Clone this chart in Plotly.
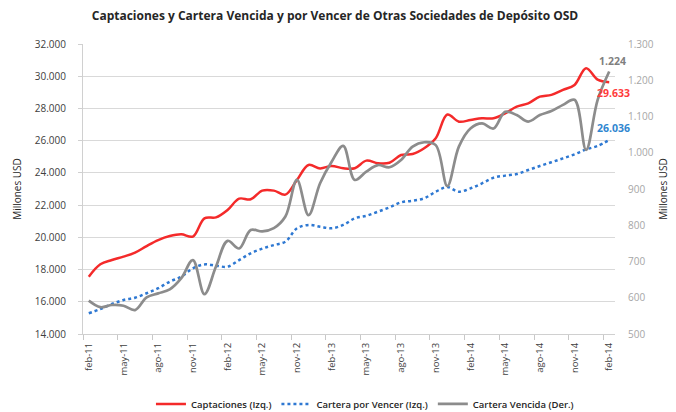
import plotly.graph_objects as go

# ---- data ----
tick_labels = ["feb-11", "may-11", "ago-11", "nov-11", "feb-12", "may-12", "nov-12", "feb-13",
               "may-13", "ago-13", "nov-13", "feb-14", "may-14", "ago-14", "nov-14", "feb-14"]

captaciones = [17560, 18330, 18590, 18800, 19050, 19460, 19830, 20080, 20190, 20050,
               21180, 21240, 21700, 22400, 22360, 22900, 22900, 22650, 23560, 24490,
               24280, 24430, 24290, 24290, 24760, 24600, 24630, 25110, 25170, 25530,
               26150, 27620, 27180, 27280, 27390, 27390, 27700, 28110, 28320, 28730,
               28840, 29150, 29460, 30500, 29790, 29633]

cartera_por_vencer = [15285, 15550, 15860, 16110, 16250, 16530, 16840, 17250, 17560, 18080,
                      18320, 18240, 18180, 18590, 19010, 19300, 19520, 19730, 20560, 20770,
                      20660, 20560, 20770, 21180, 21340, 21590, 21860, 22170, 22270, 22420,
                      22830, 23120, 22830, 23040, 23350, 23700, 23830, 23930, 24180, 24430,
                      24660, 24900, 25150, 25460, 25670, 26036]

cartera_vencida = [592, 574, 580, 578, 566, 601, 612, 623, 654, 704,
                   610, 686, 757, 736, 787, 783, 792, 824, 925, 828,
                   916, 975, 1019, 925, 948, 966, 960, 980, 1017, 1029,
                   1021, 908, 1017, 1067, 1081, 1067, 1113, 1104, 1086, 1104,
                   1115, 1132, 1146, 1008, 1146, 1224]

months = list(range(len(captaciones)))
label_step = 3

RED = "#f42a2a"
BLUE = "#2e78d2"
GRAY = "#8c8c8c"


def fmt(v):
    return f"{v:,}".replace(",", ".")


fig = go.Figure()
fig.add_trace(go.Scatter(x=months, y=captaciones, name="Captaciones (Izq.)", mode="lines",
                         line=dict(color=RED, width=2.5, shape="spline")))
fig.add_trace(go.Scatter(x=months, y=cartera_por_vencer, name="Cartera por Vencer (Izq.)", mode="lines",
                         line=dict(color=BLUE, width=2.5, dash="dot", shape="spline")))
fig.add_trace(go.Scatter(x=months, y=cartera_vencida, name="Cartera Vencida (Der.)", mode="lines",
                         yaxis="y2", line=dict(color=GRAY, width=2.7, shape="spline")))

last = months[-1]
lab_font = dict(size=10.5, family="Open Sans")
fig.add_annotation(x=last, y=cartera_vencida[-1], xref="x", yref="y2", text="<b>" + fmt(cartera_vencida[-1]) + "</b>",
                   showarrow=False, yshift=11, xshift=3, font=dict(color="#7f7f7f", **lab_font))
fig.add_annotation(x=last, y=captaciones[-1], xref="x", yref="y", text="<b>" + fmt(captaciones[-1]) + "</b>",
                   showarrow=False, yshift=-11, xshift=4, font=dict(color="#ff3b3b", **lab_font))
fig.add_annotation(x=last, y=cartera_por_vencer[-1], xref="x", yref="y", text="<b>" + fmt(cartera_por_vencer[-1]) + "</b>",
                   showarrow=False, yshift=12, xshift=4, font=dict(color="#2f86d0", **lab_font))

fig.update_layout(
    width=668, height=404,
    margin=dict(l=75, r=61, t=36, b=78, autoexpand=False),
    paper_bgcolor="white", plot_bgcolor="white",
    separators=",.",
    font=dict(family="Open Sans", color="#404040"),
    title=dict(text="<b>Captaciones y Cartera Vencida y por Vencer de Otras Sociedades de Depósito OSD</b>",
               x=0.4895, xanchor="center", y=0.99, yanchor="top",
               font=dict(size=12, color="#262626", family="Open Sans")),
    xaxis=dict(range=[-0.5, len(months) - 0.5], automargin=False,
               tickmode="array", tickvals=months[::label_step], ticktext=tick_labels,
               tickangle=-90, ticks="outside", ticklen=4, tickcolor="rgba(0,0,0,0)",
               tickfont=dict(size=9.5, color="#404040"),
               showgrid=False, zeroline=False,
               showline=True, linecolor="#d0d0d0", linewidth=1,
               minor=dict(tickmode="linear", tick0=-0.5, dtick=label_step, ticks="outside",
                          ticklen=5, tickcolor="#c8c8c8", showgrid=False)),
    yaxis=dict(range=[14000, 32000], dtick=2000, tickformat=",d", automargin=False,
               showgrid=True, gridcolor="#d9d9d9", gridwidth=1, zeroline=False,
               showline=True, linecolor="#d0d0d0", ticks="outside", ticklen=4, tickcolor="#d0d0d0",
               ticklabelstandoff=10,
               tickfont=dict(size=10, color="#404040"),
               title=dict(text="Millones USD", font=dict(size=10, color="#262626"), standoff=11)),
    yaxis2=dict(range=[500, 1300], dtick=100, tickformat=",d", overlaying="y", side="right",
                automargin=False, showgrid=False, zeroline=False, showline=False,
                ticklabelstandoff=12,
                tickfont=dict(size=10, color="#a6a6a6"),
                title=dict(text="Millones USD", font=dict(size=10, color="#262626"), standoff=7)),
    legend=dict(orientation="h", x=0.53, xanchor="center", yref="container", y=0.02, yanchor="middle",
                font=dict(size=9.5, color="#262626", weight=600), itemwidth=30, tracegroupgap=0,
                bgcolor="rgba(0,0,0,0)"),
    showlegend=True,
)

fig.write_html("out.html")
